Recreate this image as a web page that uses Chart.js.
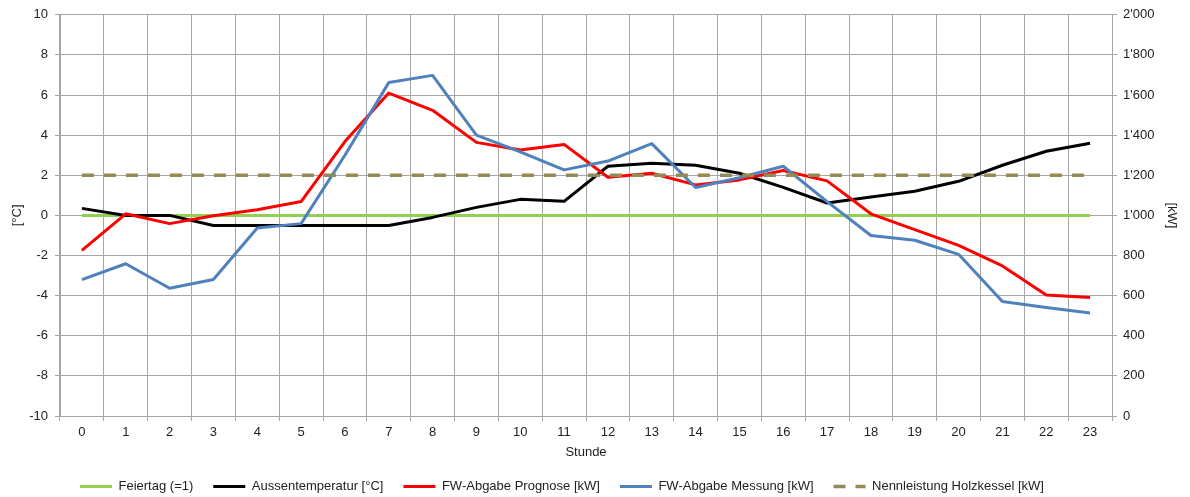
<!DOCTYPE html>
<html>
<head>
<meta charset="utf-8">
<script src="https://cdn.jsdelivr.net/npm/chart.js@4/dist/chart.umd.min.js"></script>
<style>
  html, body { margin: 0; padding: 0; background: #ffffff; }
  #wrap { width: 1190px; height: 497px; }
</style>
</head>
<body>
<div id="wrap"><canvas id="c" width="1190" height="497"></canvas></div>
<script>
// Stunden des Tages
const hours = ["0","1","2","3","4","5","6","7","8","9","10","11","12","13","14","15","16","17","18","19","20","21","22","23"];

// Feiertag-Kennung (0 = kein Feiertag)
const feiertag = [0,0,0,0,0,0,0,0,0,0,0,0,0,0,0,0,0,0,0,0,0,0,0,0];

// Aussentemperatur [°C]
const aussentemperatur = [0.35, 0, 0, -0.5, -0.5, -0.5, -0.5, -0.5, -0.1, 0.4, 0.8, 0.7, 2.45, 2.6, 2.5, 2.1, 1.4, 0.62, 0.92, 1.2, 1.7, 2.5, 3.2, 3.6];

// Fernwärme-Abgabe [kW]
const prognose = [826, 1008, 959, 998, 1028, 1069, 1368, 1610, 1524, 1364, 1326, 1354, 1190, 1210, 1152, 1177, 1224, 1172, 1008, 929, 851, 748, 603, 591];
const messung  = [680, 759, 637, 680, 937, 959, 1300, 1662, 1698, 1400, 1317, 1227, 1271, 1358, 1139, 1188, 1245, 1069, 900, 876, 806, 571, 541, 513];

// Nennleistung Holzkessel [kW]
const nennleistung = [1200,1200,1200,1200,1200,1200,1200,1200,1200,1200,1200,1200,1200,1200,1200,1200,1200,1200,1200,1200,1200,1200,1200,1200];

const FONT = "'Liberation Sans', Arial, Helvetica, sans-serif";
const FSIZE = 13;
const TEXT = '#222222';
const GRID = '#a6a6a6';

Chart.defaults.font.family = FONT;
Chart.defaults.font.size = FSIZE;
Chart.defaults.color = TEXT;

// Tausendertrennzeichen mit Apostroph (2'000)
const fmtKw = v => String(v).replace(/\B(?=(\d{3})+(?!\d))/g, "'");

// Legendeneinträge als Linienstücke mit Farbe, Breite und Strichmuster der Reihe
const lineLegend = chart => chart.data.datasets.map((ds, i) => ({
  text: ds.label,
  fillStyle: ds.borderColor,
  strokeStyle: ds.borderColor,
  lineWidth: ds.borderWidth || 3,
  lineDash: ds.borderDash || [],
  lineCap: 'butt',
  pointStyle: 'line',
  fontColor: TEXT,
  hidden: false,
  datasetIndex: i
}));

new Chart(document.getElementById('c'), {
  type: 'line',
  data: {
    labels: hours,
    datasets: [
      { label: 'Feiertag (=1)', data: feiertag, borderColor: '#92d050', borderWidth: 3, yAxisID: 'yTemp', order: 5 },
      { label: 'Aussentemperatur [°C]', data: aussentemperatur, borderColor: '#000000', borderWidth: 3, yAxisID: 'yTemp', order: 4 },
      { label: 'FW-Abgabe Prognose [kW]', data: prognose, borderColor: '#ff0000', borderWidth: 3, yAxisID: 'yKw', order: 3 },
      { label: 'FW-Abgabe Messung [kW]', data: messung, borderColor: '#4f81bd', borderWidth: 3, yAxisID: 'yKw', order: 2 },
      { label: 'Nennleistung Holzkessel [kW]', data: nennleistung, borderColor: '#948a54', borderDash: [12, 10], borderWidth: 3.5, yAxisID: 'yKw', order: 1 }
    ]
  },
  options: {
    responsive: false,
    animation: false,
    devicePixelRatio: 1,
    layout: { padding: { top: 12, left: 0, right: 0, bottom: -6 } },
    elements: {
      line: { tension: 0, fill: false, borderJoinStyle: 'round', borderCapStyle: 'butt' },
      point: { radius: 0, hoverRadius: 0 }
    },
    plugins: {
      legend: {
        position: 'bottom',
        fullSize: false,
        align: 'start',
        labels: {
          usePointStyle: true,
          pointStyle: 'line',
          pointStyleWidth: 32,
          boxHeight: FSIZE,
          padding: 20,
          color: TEXT,
          font: { family: FONT, size: FSIZE },
          generateLabels: lineLegend
        }
      },
      tooltip: { enabled: false }
    },
    scales: {
      x: {
        type: 'category',
        offset: true,
        grid: { offset: true, color: GRID, tickLength: 5, drawTicks: true },
        border: { display: true, color: GRID },
        ticks: { padding: 4, maxRotation: 0, autoSkip: false, color: TEXT },
        title: { display: true, text: 'Stunde', color: TEXT, padding: { top: 0, bottom: 0 } },
        afterFit(s) { s.height = 44; }
      },
      yTemp: {
        position: 'left',
        min: -10, max: 10,
        ticks: { stepSize: 2, padding: 7, color: TEXT },
        grid: { color: GRID, tickLength: 5 },
        border: { display: true, color: GRID },
        title: { display: true, text: '[°C]', color: TEXT, padding: { top: 10, bottom: 0 } },
        afterFit(s) { s.width = 60; }
      },
      yKw: {
        position: 'right',
        min: 0, max: 2000,
        ticks: { stepSize: 200, padding: 6, color: TEXT, callback: v => fmtKw(v) },
        grid: { drawOnChartArea: false, color: GRID, tickLength: 5 },
        border: { display: true, color: GRID },
        title: { display: true, text: '[kW]', color: TEXT, padding: { top: 11, bottom: 0 } },
        afterFit(s) { s.width = 78; }
      }
    }
  }
});
</script>
</body>
</html>
